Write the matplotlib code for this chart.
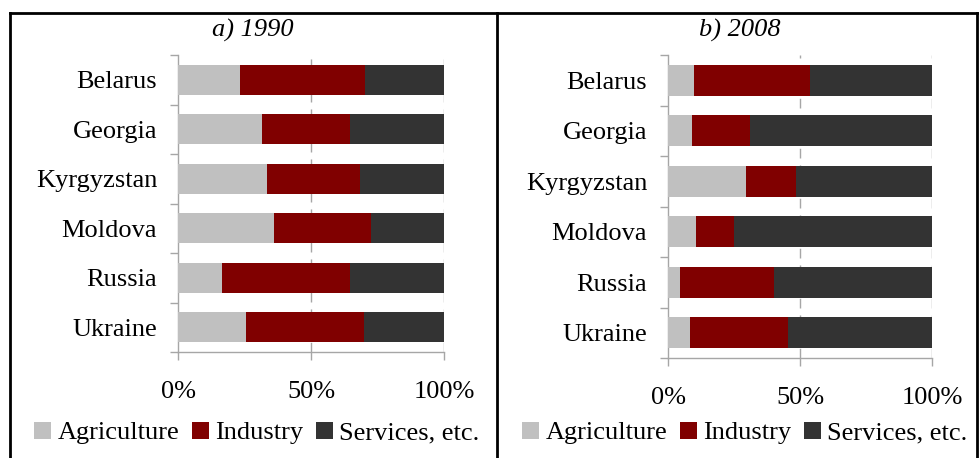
import matplotlib.pyplot as plt
from matplotlib.lines import Line2D
import numpy as np

plt.rcParams["font.family"] = ["Liberation Serif", "DejaVu Serif"]

COUNTRIES = ["Belarus", "Georgia", "Kyrgyzstan", "Moldova", "Russia", "Ukraine"]
SECTORS = ["Agriculture", "Industry", "Services, etc."]
COLORS = ["#c0c0c0", "#800000", "#333333"]

# shares in % (agriculture, industry, services)
AGRI_1990 = [23.3, 31.6, 33.5, 36.1, 16.5, 25.6]
IND_1990 = [47.1, 33.1, 34.9, 36.6, 48.2, 44.3]
SERV_1990 = [29.6, 35.3, 31.6, 27.3, 35.3, 30.1]

AGRI_2008 = [9.7, 9.0, 29.5, 10.5, 4.4, 8.2]
IND_2008 = [44.1, 22.0, 19.0, 14.5, 35.7, 37.2]
SERV_2008 = [46.2, 69.0, 51.5, 75.0, 59.9, 54.6]

PANELS = [
    ("a) 1990", [AGRI_1990, IND_1990, SERV_1990]),
    ("b) 2008", [AGRI_2008, IND_2008, SERV_2008]),
]

W, H = 980, 458
FS = 19
GRID = "#a6a6a6"

fig = plt.figure(figsize=(W / 100, H / 100), dpi=100, facecolor="white")

# axes boxes in pixels: left, top, right, bottom
boxes = [(178, 55, 444, 352), (668, 55, 932, 358)]
title_x = [253, 740]
legend_x = [257, 745]

for (title, series), (l, t, r, b), tx, lx in zip(PANELS, boxes, title_x, legend_x):
    ax = fig.add_axes([l / W, 1 - b / H, (r - l) / W, (b - t) / H])
    y = np.arange(len(COUNTRIES))
    left = np.zeros(len(COUNTRIES))
    for vals, col, name in zip(series, COLORS, SECTORS):
        vals = np.array(vals) / 100
        ax.barh(y, vals, left=left, height=0.61, color=col, label=name, zorder=3)
        left += vals
    ax.set_ylim(len(COUNTRIES) - 0.5, -0.5)
    ax.set_xlim(0, 1)
    ax.set_yticks(y)
    ax.set_yticklabels(COUNTRIES, fontsize=FS)
    ax.set_yticks(np.arange(len(COUNTRIES) + 1) - 0.5, minor=True)
    ax.tick_params(axis="y", which="major", length=0, pad=15)
    ax.tick_params(axis="y", which="minor", length=6, width=1, color=GRID)
    ax.set_xticks([0, 0.5, 1])
    ax.set_xticklabels(["0%", "50%", "100%"], fontsize=FS)
    ax.tick_params(axis="x", which="major", length=6, width=1, color=GRID, pad=15)
    for v in [0.5, 1.0]:
        ax.axvline(v, color=GRID, lw=1, ls=(0, (7, 5)), zorder=1)
    for s in ["top", "right"]:
        ax.spines[s].set_visible(False)
    for s in ["left", "bottom"]:
        ax.spines[s].set_color(GRID)
        ax.spines[s].set_linewidth(1)
    fig.text(tx / W, 1 - 30 / H, title, fontsize=FS, style="italic",
             ha="center", va="center")
    h, lab = ax.get_legend_handles_labels()
    fig.legend(h, lab, loc="center", bbox_to_anchor=(lx / W, 1 - 433 / H),
               ncol=3, frameon=False, fontsize=FS, handlelength=0.62,
               handleheight=0.62, handletextpad=0.25, columnspacing=0.5,
               borderpad=0, borderaxespad=0)

# outer frame
for xs, ys in [([10, 977], [13, 13]), ([10, 10], [13, 458]),
               ([977, 977], [13, 458]), ([497, 497], [13, 458])]:
    fig.add_artist(Line2D([x / W for x in xs], [1 - v / H for v in ys],
                          color="black", lw=2))

fig.savefig("out.png", dpi=100, facecolor="white")
